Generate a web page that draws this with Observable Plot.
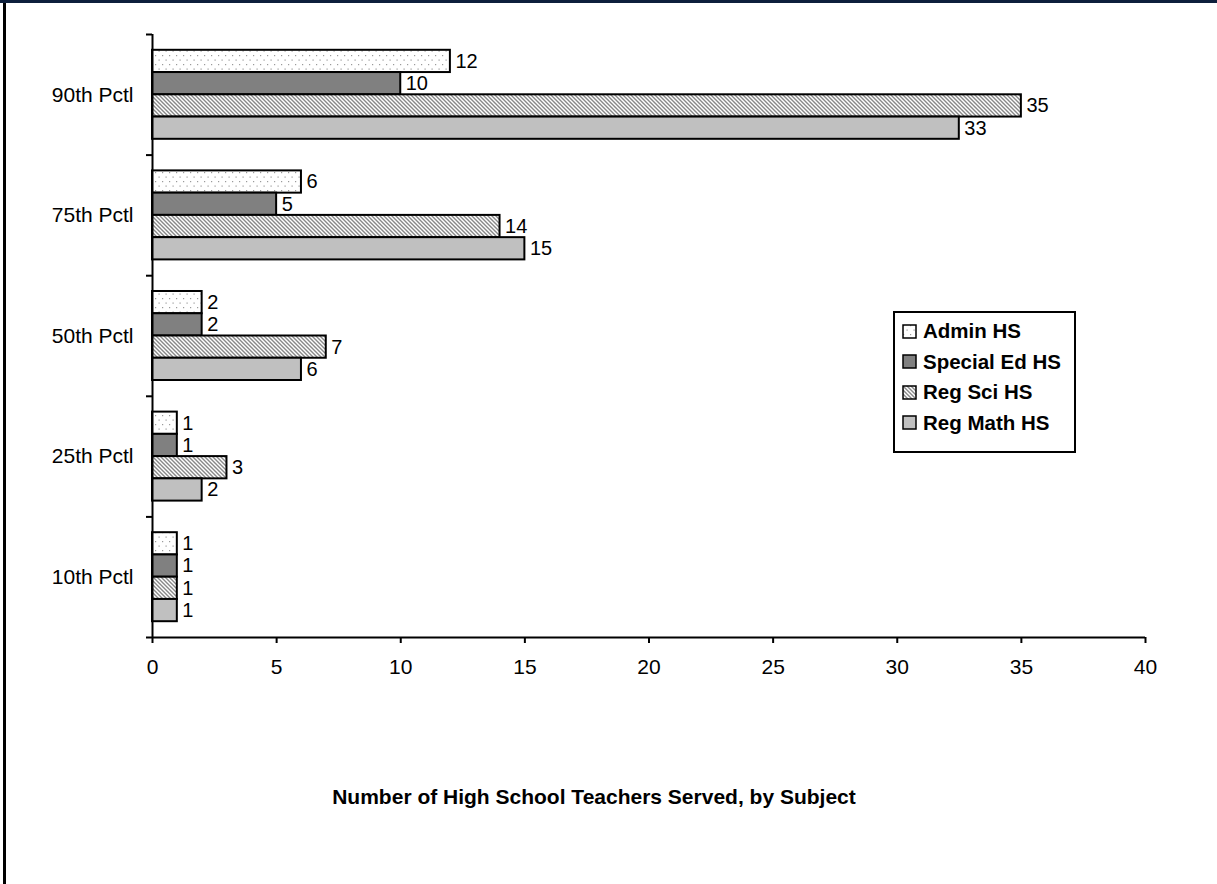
<!DOCTYPE html>
<html>
<head>
<meta charset="utf-8">
<script src="https://cdn.jsdelivr.net/npm/d3@7"></script>
<script src="https://cdn.jsdelivr.net/npm/@observablehq/plot@0.6"></script>
<style>
  html, body { margin: 0; padding: 0; background: #fff; }
  #wrap { position: relative; width: 1217px; height: 884px; overflow: hidden; background: #fff;
          font-family: "Liberation Sans", Arial, sans-serif; }
  #topbar { position: absolute; left: 0; top: 0; width: 1217px; height: 3px; background: #0d1f3c; }
  #leftbar { position: absolute; left: 3px; top: 3px; width: 3px; height: 881px; background: #000; }
  #chart { position: absolute; left: 0; top: 0; }
  #title { position: absolute; left: 0; width: 1188px; top: 786px; text-align: center;
           font-weight: bold; font-size: 21px; line-height: 21px; color: #000; }
  #legend { position: absolute; left: 893px; top: 311px; width: 179px; height: 135px;
            border: 2px solid #000; background: #fff; padding-top: 3px; box-sizing: content-box; }
  #legend .row { display: flex; align-items: center; height: 30.5px; padding-left: 7px;
                 font-weight: bold; font-size: 20.5px; }
  #legend svg { margin-right: 6px; display: block; }
  svg [aria-label^="x-axis"] line, svg [aria-label^="x-axis"] path,
  svg [aria-label^="y-axis"] line, svg [aria-label^="y-axis"] path { stroke-width: 2px; stroke: #000; }
</style>
</head>
<body>
<svg width="0" height="0" style="position:absolute">
  <defs>
    <pattern id="pat-dots" patternUnits="userSpaceOnUse" width="7" height="9">
      <rect width="7" height="9" fill="#fff"></rect>
      <rect x="1" y="1" width="1.2" height="1.2" fill="#9a9a9a"></rect>
      <rect x="4.5" y="5.5" width="1.2" height="1.2" fill="#9a9a9a"></rect>
    </pattern>
    <pattern id="pat-hatch" patternUnits="userSpaceOnUse" width="4" height="4">
      <rect width="4" height="4" fill="#fff"></rect>
      <path d="M-1,-1 L5,5 M-1,3 L1,5 M3,-1 L5,1" stroke="#888" stroke-width="1.4"></path>
    </pattern>
  </defs>
</svg>
<div id="wrap">
  <div id="chart"></div>
  <div id="legend"></div>
  <div id="title"></div>
  <div id="topbar"></div>
  <div id="leftbar"></div>
</div>
<script>
// ---- data ----
const categories = ["10th Pctl", "25th Pctl", "50th Pctl", "75th Pctl", "90th Pctl"];
const series = ["Admin HS", "Special Ed HS", "Reg Sci HS", "Reg Math HS"];
const adminHS     = [1, 1, 2, 6, 12];
const specialEdHS = [1, 1, 2, 5, 10];
const regSciHS    = [1, 3, 7, 14, 35];
const regMathHS   = [1, 2, 6, 15, 32.5];
const xTicks = [0, 5, 10, 15, 20, 25, 30, 35, 40];
const titleText = "Number of High School Teachers Served, by Subject";

const seriesValues = [adminHS, specialEdHS, regSciHS, regMathHS];
const seriesFill = ["url(#pat-dots)", "#808080", "url(#pat-hatch)", "#c0c0c0"];

// within-group offsets (first series on top)
const inner = d3.scaleBand(series, [1, 0]).paddingOuter(0.71).paddingInner(0);
const bw = inner.bandwidth();

const rows = [];
categories.forEach((c, ci) => {
  series.forEach((s, si) => {
    const y1 = ci + inner(s);
    rows.push({cat: c, series: s, si, value: seriesValues[si][ci], y1, y2: y1 + bw, ym: y1 + bw / 2});
  });
});
const catRows = categories.map((c, i) => ({c, mid: i + 0.5}));
const boundaries = d3.range(categories.length + 1);

const marks = [];
series.forEach((s, si) => {
  marks.push(Plot.rect(rows.filter(d => d.si === si), {
    x1: () => 0, x2: "value", y1: "y1", y2: "y2",
    fill: seriesFill[si], stroke: "#000", strokeWidth: 2
  }));
});
marks.push(Plot.text(rows, {
  x: "value", y: "ym", text: d => String(Math.round(d.value)),
  textAnchor: "start", dx: 5, fontSize: 20, fill: "#000"
}));
marks.push(Plot.text(catRows, {
  x: () => 0, y: "mid", text: "c", textAnchor: "end", dx: -19, fontSize: 21, fill: "#000"
}));
marks.push(Plot.ruleX([0], {stroke: "#000", strokeWidth: 2}));
marks.push(Plot.ruleY([0], {stroke: "#000", strokeWidth: 2}));

const chart = Plot.plot({
  width: 1217,
  height: 700,
  marginTop: 34,
  marginBottom: 63,
  marginLeft: 152,
  marginRight: 72,
  style: {fontFamily: "'Liberation Sans', Arial, sans-serif", fontSize: "21px", color: "#000", background: "transparent", overflow: "visible"},
  x: {domain: [0, 40], ticks: xTicks, tickSize: 6, tickPadding: 16, label: null},
  y: {domain: [0, 5], ticks: boundaries, tickFormat: () => "", tickSize: 6, label: null},
  marks
});
document.getElementById("chart").appendChild(chart);

// legend
const legend = document.getElementById("legend");
series.forEach((s, si) => {
  const row = document.createElement("div");
  row.className = "row";
  row.innerHTML = `<svg width="15" height="15"><rect x="1" y="1" width="13" height="13" fill="${seriesFill[si]}" stroke="#000" stroke-width="1.5"></rect></svg><span>${s}</span>`;
  legend.appendChild(row);
});
document.getElementById("title").textContent = titleText;
</script>
</body>
</html>
